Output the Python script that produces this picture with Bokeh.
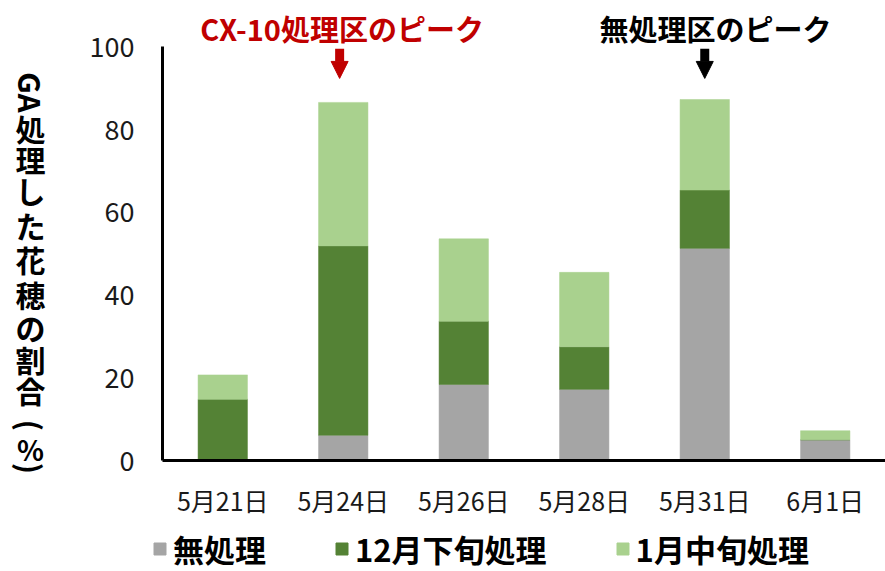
import math
from bokeh.plotting import figure
from bokeh.layouts import row, column
from bokeh.models import (ColumnDataSource, Legend, LegendItem, Label, Arrow,
                          NormalHead, FactorRange, FixedTicker, Range1d)
from bokeh.embed import file_html
from bokeh.resources import INLINE

# ---- data ----
dates = ["5月21日", "5月24日", "5月26日", "5月28日", "5月31日", "6月1日"]
untreated = [0.0, 6.1, 18.4, 17.2, 51.3, 5.0]      # 無処理
dec_late = [14.8, 45.8, 15.3, 10.3, 14.1, 0.0]      # 12月下旬処理
jan_mid = [5.9, 34.7, 19.9, 18.0, 21.9, 2.2]        # 1月中旬処理
series_names = ["無処理", "12月下旬処理", "1月中旬処理"]
y_ticks = [0, 20, 40, 60, 80, 100]
peak_dates = ["5月24日", "5月31日"]
peak_texts = ["CX-10処理区のピーク", "無処理区のピーク"]
y_title_parts = ["GA", "処", "理", "し", "た", "花", "穂", "の", "割", "合", "(", "%", ")"]

# ---- style ----
colors = ["#A5A5A5", "#548235", "#A9D18E"]
peak_colors = ["#C00000", "#000000"]
FONT = "Noto Sans CJK JP"
W_TITLE = 70
W_MAIN = 815
H_MAIN = 520
H_LEG = 51
Y_TOP = 111.24   # range end so that 100 sits below the peak texts

source = ColumnDataSource(dict(date=dates, u=untreated, d=dec_late, j=jan_mid))

def bare(fig):
    fig.xgrid.visible = False
    fig.ygrid.visible = False
    fig.outline_line_color = None
    fig.frame_align = False

# ---- main chart ----
p = figure(x_range=FactorRange(*dates), y_range=Range1d(0, Y_TOP),
           width=W_MAIN, height=H_MAIN, output_backend="svg", toolbar_location=None,
           min_border_left=162 - W_TITLE, min_border_right=0, min_border_top=0,
           min_border_bottom=H_MAIN - 465)
bare(p)

rs = p.vbar_stack(["u", "d", "j"], x="date", width=0.41, source=source,
                  fill_color=colors, line_color=colors, line_width=0.5)

for ax in (p.xaxis, p.yaxis):
    ax.axis_line_color = "#000000"
    ax.axis_line_width = 3
    ax.major_tick_line_color = None
    ax.minor_tick_line_color = None
    ax.major_tick_out = 0
    ax.major_tick_in = 0
    ax.major_label_text_font = FONT
    ax.major_label_text_color = "#1a1a1a"

p.xaxis.major_label_text_font_size = "25px"
p.xaxis.major_label_standoff = 21
p.yaxis.ticker = FixedTicker(ticks=y_ticks)
p.yaxis.bounds = (0, 100)
p.yaxis.major_label_text_font_size = "27px"
p.yaxis.major_label_standoff = 28

for pd_, txt, col, toff, aoff in zip(peak_dates, peak_texts, peak_colors, [-0.01, 0.09], [-0.03, 0.0]):
    xc = dates.index(pd_) + 0.5
    p.add_layout(Label(x=xc + toff, y=104.5, text=txt, text_align="center",
                       text_baseline="middle", text_font=FONT, text_font_size="29px",
                       text_font_style="bold", text_color=col))
    p.add_layout(Arrow(end=NormalHead(size=17, fill_color=col, line_color=col),
                       x_start=xc + aoff, y_start=99.6, x_end=xc + aoff, y_end=92.4,
                       line_color=col, line_width=9))

# ---- vertical y-axis title (left strip, pixel coordinates) ----
t = figure(width=W_TITLE, height=H_MAIN + H_LEG, x_range=Range1d(0, W_TITLE),
           y_range=Range1d(H_MAIN + H_LEG, 0), output_backend="svg",
           toolbar_location=None, x_axis_type=None, y_axis_type=None,
           min_border=0)
bare(t)
title_py = [92, 127, 158, 189, 224, 258, 293, 326, 358, 389, 425, 448, 468]
for part, py in zip(y_title_parts, title_py):
    rot = part in ("GA", "(", ")")
    t.add_layout(Label(x=30, y=py, text=part,
                       angle=-math.pi / 2 if rot else 0,
                       text_align="center", text_baseline="middle",
                       text_font=FONT, text_font_size="30px" if part != "%" else "28px",
                       text_font_style="bold", text_color="#000000"))

# ---- legend strip ----
lg = figure(x_range=p.x_range, y_range=Range1d(500, 600), width=W_MAIN, height=H_LEG,
            output_backend="svg", toolbar_location=None, x_axis_type=None,
            y_axis_type=None, min_border=0)
bare(lg)
lrs = lg.vbar_stack(["u", "d", "j"], x="date", width=0.41, source=source,
                    fill_color=colors, line_color=colors)
legend = Legend(items=[LegendItem(label=n, renderers=[r]) for n, r in zip(series_names, lrs)],
                orientation="horizontal", location=(152 - W_TITLE, 0),
                glyph_width=15, glyph_height=15, label_standoff=6, spacing=68,
                label_text_font=FONT, label_text_font_size="31px",
                label_text_font_style="bold", label_text_color="#000000",
                border_line_color=None, background_fill_alpha=0,
                padding=0, margin=0)
lg.add_layout(legend, "center")

layout = row(t, column(p, lg, spacing=0), spacing=0)
open("out.html", "w").write(file_html(layout, INLINE))
